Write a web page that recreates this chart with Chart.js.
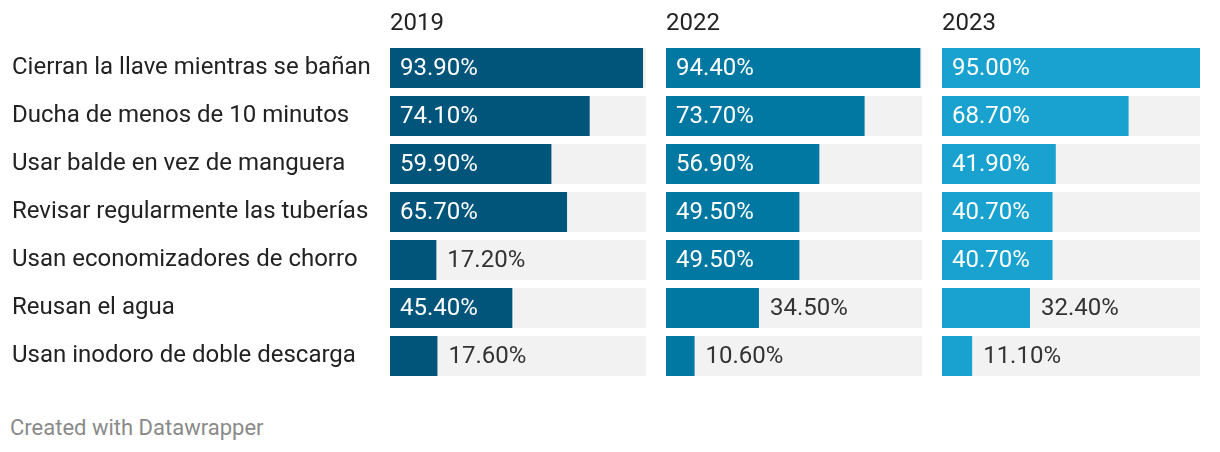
<!DOCTYPE html>
<html>
<head>
<meta charset="utf-8">
<script src="https://cdn.jsdelivr.net/npm/chart.js@4/dist/chart.umd.min.js"></script>
<style>
  body { margin: 0; background: #fff; }
  #wrap { position: relative; width: 1220px; height: 452px; font-family: Roboto, sans-serif; }
  canvas { position: absolute; top: 0; }
  #footer { position: absolute; left: 10px; top: 415px; font-size: 22px; line-height: 26px; color: #8a8a8a; }
</style>
</head>
<body>
<div id="wrap">
  <canvas id="c2019" width="646" height="380" style="left:0px"></canvas>
  <canvas id="c2022" width="256" height="380" style="left:666px"></canvas>
  <canvas id="c2023" width="258" height="380" style="left:942px"></canvas>
  <div id="footer">Created with Datawrapper</div>
</div>
<script>
// data
const categories = [
    'Cierran la llave mientras se bañan',
    'Ducha de menos de 10 minutos',
    'Usar balde en vez de manguera',
    'Revisar regularmente las tuberías',
    'Usan economizadores de chorro',
    'Reusan el agua',
    'Usan inodoro de doble descarga'
];
const years = ['2019', '2022', '2023'];
const values2019 = [93.9, 74.1, 59.9, 65.7, 17.2, 45.4, 17.6];
const values2022 = [94.4, 73.7, 56.9, 49.5, 49.5, 34.5, 10.6];
const values2023 = [95.0, 68.7, 41.9, 40.7, 40.7, 32.4, 11.1];

const colors = ['#01557b', '#0078a1', '#19a2cf'];
const xMax = 95;
const FONT = 'Roboto, sans-serif';

// draws the value labels inside or next to each bar
const valueLabels = {
    id: 'valueLabels',
    afterDatasetsDraw(chart) {
        const ctx = chart.ctx;
        const meta = chart.getDatasetMeta(0);
        const data = chart.data.datasets[0].data;
        ctx.save();
        ctx.font = '24px ' + FONT;
        ctx.textBaseline = 'middle';
        ctx.textAlign = 'left';
        meta.data.forEach((bar, i) => {
            const text = data[i].toFixed(2) + '%';
            const w = ctx.measureText(text).width;
            const barWidth = bar.x - bar.base;
            if (barWidth > w + 20) {
                ctx.fillStyle = '#ffffff';
                ctx.fillText(text, bar.base + 10, bar.y + 1);
            } else {
                ctx.fillStyle = '#333333';
                ctx.fillText(text, bar.x + 11, bar.y + 1);
            }
        });
        ctx.restore();
    }
};

function makeChart(id, year, values, color, showLabels) {
    const ctx = document.getElementById(id).getContext('2d');
    return new Chart(ctx, {
        type: 'bar',
        data: {
            labels: categories,
            datasets: [
                {
                    data: values,
                    backgroundColor: color,
                    order: 0
                },
                {
                    // gray track behind each bar
                    data: categories.map(() => xMax),
                    backgroundColor: '#f2f2f2',
                    order: 1
                }
            ]
        },
        options: {
            indexAxis: 'y',
            responsive: false,
            animation: false,
            layout: { padding: { left: showLabels ? 12 : 0, right: 0, top: 0, bottom: 0 } },
            datasets: {
                bar: {
                    grouped: false,
                    barPercentage: 40 / 48,
                    categoryPercentage: 1,
                    borderWidth: 0
                }
            },
            plugins: {
                legend: { display: false },
                tooltip: { enabled: false }
            },
            scales: {
                x: {
                    position: 'top',
                    min: 0,
                    max: xMax,
                    grid: { display: false, drawTicks: false },
                    border: { display: false },
                    ticks: { display: false },
                    title: {
                        display: true,
                        text: year,
                        align: 'start',
                        color: '#222',
                        font: { family: FONT, size: 24, lineHeight: 1 },
                        padding: { top: 12, bottom: 8 }
                    }
                },
                y: {
                    display: showLabels,
                    grid: { display: false, drawTicks: false },
                    border: { display: false },
                    ticks: {
                        crossAlign: 'far',
                        color: '#222',
                        padding: 0,
                        font: { family: FONT, size: 24 }
                    },
                    afterFit(scale) {
                        if (showLabels) {
                            scale.width = 378;
                        }
                        scale.paddingTop = 0;
                        scale.paddingBottom = 0;
                    }
                }
            }
        },
        plugins: [valueLabels]
    });
}

makeChart('c2019', years[0], values2019, colors[0], true);
makeChart('c2022', years[1], values2022, colors[1], false);
makeChart('c2023', years[2], values2023, colors[2], false);
</script>
</body>
</html>
